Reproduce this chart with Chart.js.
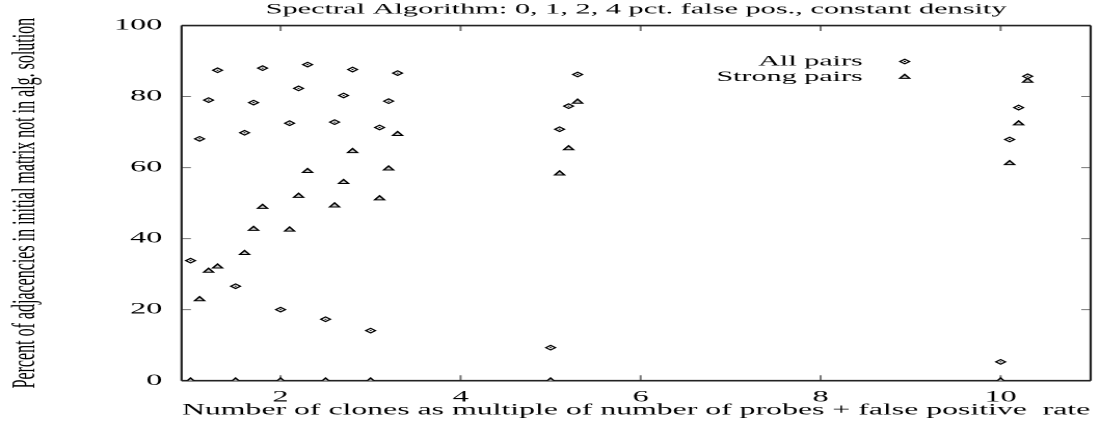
<!DOCTYPE html>
<html>
<head>
<meta charset="utf-8">
<style>
  html, body { margin: 0; padding: 0; background: #fff; overflow: hidden; }
  /* the reference plot is stretched sideways, so draw it narrow and stretch it */
  #wrap { width: 530px; height: 431px; transform: scaleX(2.0774); transform-origin: 0 0; }
</style>
</head>
<body>
<div id="wrap"><canvas id="scatterChart"></canvas></div>
<script src="https://cdn.jsdelivr.net/npm/chart.js@4.4.0/dist/chart.umd.min.js"></script>
<script>
// clones as multiple of probes + false positive rate
const clones = [1.0, 1.1, 1.2, 1.3, 1.5, 1.6, 1.7, 1.8, 2.0, 2.1, 2.2, 2.3,
                2.5, 2.6, 2.7, 2.8, 3.0, 3.1, 3.2, 3.3, 5.0, 5.1, 5.2, 5.3,
                10.0, 10.1, 10.2, 10.3];
const allPairs = [33.8, 68.1, 79.0, 87.4, 26.6, 69.8, 78.3, 88.0, 20.0, 72.5, 82.3, 89.0,
                  17.3, 72.8, 80.3, 87.6, 14.1, 71.3, 78.7, 86.6, 9.3, 70.8, 77.3, 86.2,
                  5.3, 67.9, 76.9, 85.7];
const strongPairs = [0, 22.9, 30.9, 32.1, 0, 35.9, 42.7, 48.9, 0, 42.5, 52.0, 59.0,
                     0, 49.3, 55.9, 64.6, 0, 51.3, 59.7, 69.4, 0, 58.3, 65.4, 78.5,
                     0, 61.2, 72.4, 84.4];
const xTicks = [2, 4, 6, 8, 10];
const yTicks = [0, 20, 40, 60, 80, 100];

const serif = '"Liberation Serif", "Times New Roman", serif';
const toPoints = (ys) => clones.map((x, i) => ({ x: x, y: ys[i] }));

// inner tick marks and the box round the plot, gnuplot style
const framePlugin = {
    id: 'frame',
    beforeDatasetsDraw(chart) {
        const { ctx, chartArea: a, scales } = chart;
        ctx.save();
        ctx.strokeStyle = '#777';
        ctx.lineWidth = 1;
        ctx.beginPath();
        scales.y.ticks.forEach(t => {
            const y = scales.y.getPixelForValue(t.value);
            ctx.moveTo(a.left, y); ctx.lineTo(a.left + 4.5, y);
            ctx.moveTo(a.right, y); ctx.lineTo(a.right - 4.5, y);
        });
        scales.x.ticks.forEach(t => {
            const x = scales.x.getPixelForValue(t.value);
            ctx.moveTo(x, a.top); ctx.lineTo(x, a.top + 5.5);
            ctx.moveTo(x, a.bottom); ctx.lineTo(x, a.bottom - 5.5);
        });
        ctx.stroke();

        ctx.strokeStyle = '#222';
        ctx.lineWidth = 1.6;
        ctx.beginPath();
        ctx.moveTo(a.left, a.top); ctx.lineTo(a.right, a.top);
        ctx.moveTo(a.left, a.bottom); ctx.lineTo(a.right, a.bottom);
        ctx.stroke();
        ctx.lineWidth = 1.1;
        ctx.beginPath();
        ctx.moveTo(a.left, a.top); ctx.lineTo(a.left, a.bottom);
        ctx.moveTo(a.right, a.top); ctx.lineTo(a.right, a.bottom);
        ctx.stroke();
        ctx.restore();
    }
};

// key in the top right corner: text on the left, marker on the right
const keyPlugin = {
    id: 'cornerKey',
    afterDraw(chart) {
        const { ctx, chartArea: a } = chart;
        ctx.save();
        ctx.font = '14.5px ' + serif;
        ctx.textAlign = 'right';
        ctx.textBaseline = 'middle';
        let row = 0;
        chart.data.datasets.forEach(ds => {
            if (!ds.label) return;
            const y = a.top + 36 + row * 15.5;
            const x = a.right - 89.5;
            ctx.fillStyle = '#000';
            ctx.fillText(ds.label, x - 20.2, y);
            ctx.fillStyle = ds.backgroundColor;
            ctx.strokeStyle = ds.borderColor;
            ctx.lineWidth = ds.borderWidth;
            Chart.helpers.drawPoint(ctx, { pointStyle: ds.pointStyle, radius: ds.pointRadius, borderWidth: ds.borderWidth, rotation: 0 }, x, y);
            if (ds.pointStyle === 'rectRot') {
                ctx.fillStyle = '#000';
                ctx.fillRect(x - 0.5, y - 0.5, 1, 1);
            }
            row++;
        });
        ctx.restore();
    }
};

const ctx = document.getElementById('scatterChart');

new Chart(ctx, {
    type: 'scatter',
    data: {
        datasets: [{
            label: '',
            data: toPoints(allPairs),
            pointStyle: 'circle',
            pointRadius: 0.55,
            backgroundColor: '#000',
            borderColor: '#000',
            borderWidth: 0,
            order: 0
        }, {
            label: 'All pairs',
            data: toPoints(allPairs),
            pointStyle: 'rectRot',
            pointRadius: 2.3,
            backgroundColor: '#fff',
            borderColor: '#000',
            borderWidth: 1,
            order: 1
        }, {
            label: 'Strong pairs',
            data: toPoints(strongPairs),
            pointStyle: 'triangle',
            pointRadius: 2.7,
            backgroundColor: '#c8c8c8',
            borderColor: '#000',
            borderWidth: 1,
            order: 2
        }]
    },
    options: {
        responsive: true,
        maintainAspectRatio: false,
        animation: false,
        devicePixelRatio: 2,
        layout: { padding: { left: 0, right: 3.9, top: 0, bottom: 0 } },
        plugins: {
            legend: { display: false },
            tooltip: { enabled: false },
            title: {
                display: true,
                fullSize: false,
                text: 'Spectral Algorithm: 0, 1, 2, 4 pct. false pos., constant density',
                color: '#000',
                font: { family: serif, size: 14.6, weight: 'normal' },
                padding: { top: 1, bottom: 7 }
            }
        },
        scales: {
            x: {
                type: 'linear',
                min: 0.9,
                max: 11,
                afterBuildTicks: (axis) => { axis.ticks = xTicks.map(v => ({ value: v })); },
                afterFit: (axis) => { axis.height = 50.3; },
                grid: { display: false, drawTicks: false },
                border: { display: false },
                ticks: { color: '#000', padding: 7.2, font: { family: serif, size: 15.5 } },
                title: {
                    display: true,
                    text: 'Number of clones as multiple of number of probes + false positive  rate',
                    color: '#000',
                    font: { family: serif, size: 15.3 },
                    padding: { top: 0, bottom: 11.4 }
                }
            },
            y: {
                min: 0,
                max: 100,
                afterBuildTicks: (axis) => { axis.ticks = yTicks.map(v => ({ value: v })); },
                afterFit: (axis) => { axis.width = 87.4; },
                grid: { display: false, drawTicks: false },
                border: { display: false },
                ticks: { color: '#000', padding: 9.3, font: { family: serif, size: 15.5 } },
                title: {
                    display: true,
                    text: 'Percent of adjacencies in initial matrix not in alg. solution',
                    color: '#000',
                    font: { family: serif, size: 16 },
                    padding: { top: 2.9, bottom: 0 }
                }
            }
        }
    },
    plugins: [framePlugin, keyPlugin]
});
</script>
</body>
</html>
